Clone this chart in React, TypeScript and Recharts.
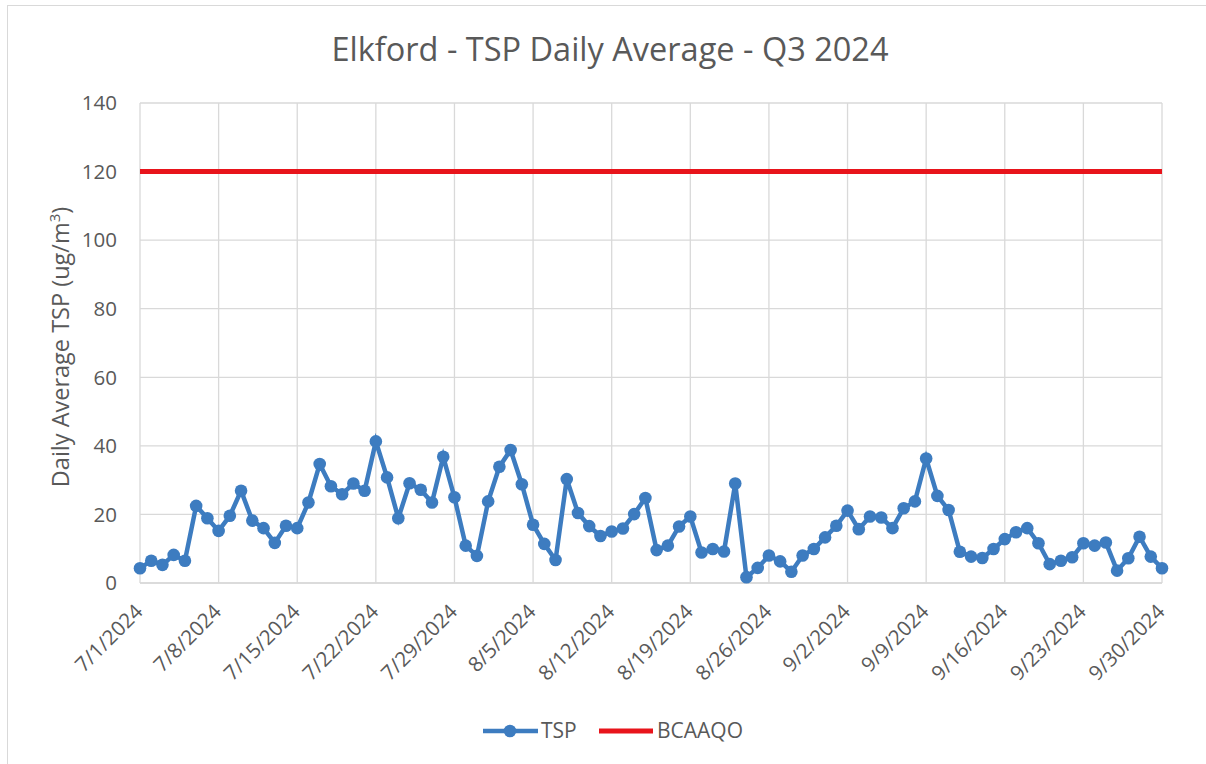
import { LineChart, Line, XAxis, YAxis, CartesianGrid } from 'recharts'

// daily average TSP, 7/1/2024 .. 9/30/2024 (92 days)
const tspValues = [
  4.3, 6.5, 5.3, 8.2, 6.5, 22.5, 18.9, 15.2, 19.6, 26.9, 18.2, 16.0, 11.7, 16.7, 16.0,
  23.5, 34.7, 28.2, 25.9, 29.0, 26.9, 41.3, 30.8, 18.9, 29.1, 27.2, 23.5, 36.8, 25.0,
  10.9, 7.9,
  23.8, 33.9, 38.8, 28.8, 17.0, 11.4, 6.7, 30.3, 20.4, 16.6, 13.7, 15.0, 15.9, 20.1,
  24.8, 9.6, 10.9, 16.5, 19.4, 8.9, 9.9, 9.2, 29.0, 1.7, 4.4, 8.0, 6.3, 3.3, 8.0, 9.9,
  13.3,
  16.7, 21.1, 15.7, 19.4, 19.1, 16.0, 21.8, 23.8, 36.3, 25.4, 21.3, 9.1, 7.7, 7.3, 9.9,
  12.8, 14.8, 16.0, 11.6, 5.5, 6.5, 7.5, 11.6, 10.9, 11.8, 3.6, 7.2, 13.5, 7.7, 4.3,
]

const bcaaqo = 120

const weekTicks = [0, 7, 14, 21, 28, 35, 42, 49, 56, 63, 70, 77, 84, 91]
const weekLabels = [
  '7/1/2024', '7/8/2024', '7/15/2024', '7/22/2024', '7/29/2024', '8/5/2024', '8/12/2024',
  '8/19/2024', '8/26/2024', '9/2/2024', '9/9/2024', '9/16/2024', '9/23/2024', '9/30/2024',
]
const yTicks = [0, 20, 40, 60, 80, 100, 120, 140]

const data = tspValues.map((v, i) => ({ day: i, tsp: v, limit: bcaaqo }))

const BLUE = '#3d7cc0'
const RED = '#e8141b'
const TEXT = '#595959'
const GRID = '#d9d9d9'
const FONT = '"Open Sans", sans-serif'

function DateTick({ x, y, payload }: any) {
  const idx = weekTicks.indexOf(payload.value)
  return (
    <g transform={`translate(${x + 4},${y + 22})`}>
      <text
        textAnchor="end"
        transform="rotate(-45)"
        fontSize={20.5}
        fontFamily={FONT}
        fill={TEXT}
      >
        {weekLabels[idx]}
      </text>
    </g>
  )
}

export default function App() {
  return (
    <div style={{ position: 'absolute', left: 0, top: 0, width: 1206, height: 764, background: '#fff' }}>
      <div
        style={{
          position: 'absolute',
          left: 7,
          top: 5,
          width: 1199,
          height: 759,
          borderTop: `1px solid ${GRID}`,
          borderLeft: `1px solid ${GRID}`,
          boxSizing: 'border-box',
        }}
      />
      <LineChart
        width={1206}
        height={764}
        data={data}
        margin={{ top: 103, right: 44, bottom: 81, left: 60 }}
        style={{ position: 'absolute', left: 0, top: 0 }}
      >
        <CartesianGrid stroke={GRID} strokeWidth={1.3} />
        <XAxis
          dataKey="day"
          type="number"
          domain={[0, 91]}
          ticks={weekTicks}
          interval={0}
          height={100}
          tickLine={false}
          axisLine={{ stroke: GRID, strokeWidth: 1.3 }}
          tick={<DateTick />}
        />
        <YAxis
          width={80}
          domain={[0, 140]}
          ticks={yTicks}
          tickLine={false}
          axisLine={false}
          tickMargin={17}
          tick={{ fontSize: 20.5, fontFamily: FONT, fill: TEXT }}
        />
        <Line
          dataKey="limit"
          stroke={RED}
          strokeWidth={5}
          dot={false}
          isAnimationActive={false}
        />
        <Line
          dataKey="tsp"
          stroke={BLUE}
          strokeWidth={4.5}
          dot={{ r: 6.3, fill: BLUE, stroke: BLUE, strokeWidth: 0 }}
          isAnimationActive={false}
        />
      </LineChart>
      <svg
        width={1206}
        height={764}
        style={{ position: 'absolute', left: 0, top: 0, pointerEvents: 'none' }}
      >
        <text x={610} y={61} textAnchor="middle" fontSize={32.5} fontFamily={FONT} fill={TEXT}>
          Elkford - TSP Daily Average - Q3 2024
        </text>
        <text
          transform="translate(69,347) rotate(-90)"
          textAnchor="middle"
          fontSize={23.5}
          fontFamily={FONT}
          fill={TEXT}
        >
          Daily Average TSP (ug/m
          <tspan fontSize={15} dy={-9}>3</tspan>
          <tspan dy={9}>)</tspan>
        </text>
        {/* legend */}
        <line x1={483} y1={731} x2={538} y2={731} stroke={BLUE} strokeWidth={4.5} />
        <circle cx={510} cy={731} r={6.3} fill={BLUE} />
        <text x={541} y={738} fontSize={21} fontFamily={FONT} fill={TEXT}>TSP</text>
        <line x1={599} y1={731} x2={653} y2={731} stroke={RED} strokeWidth={5} />
        <text x={657} y={738} fontSize={21} fontFamily={FONT} fill={TEXT}>BCAAQO</text>
      </svg>
    </div>
  )
}
